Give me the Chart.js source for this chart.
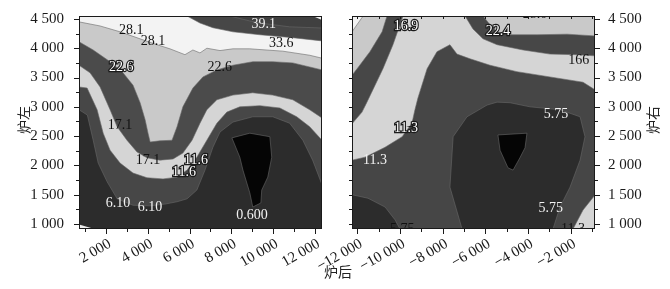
<!DOCTYPE html>
<html lang="zh">
<head>
<meta charset="UTF-8">
<title>炉后 等值线图</title>
<script src="https://cdn.jsdelivr.net/npm/chart.js@4"></script>
<style>
    body { margin: 0; background: #fff; }
    .wrap { position: relative; width: 670px; height: 289px; }
    .wrap canvas { position: absolute; left: 0; top: 0; }
    .axis-title {
        position: absolute;
        font-family: "Noto Sans CJK SC", sans-serif;
        font-size: 14px;
        line-height: 14px;
        color: #222;
        white-space: nowrap;
    }
    .vert { transform: rotate(-90deg); }
</style>
</head>
<body>
<div class="wrap">
    <canvas id="leftChart" width="670" height="289"></canvas>
    <canvas id="rightChart" width="670" height="289"></canvas>
    <div class="axis-title" style="left:324px; top:264px;">炉后</div>
    <div class="axis-title vert" style="left:9px; top:113px;">炉左</div>
    <div class="axis-title vert" style="left:638px; top:113px;">炉右</div>
</div>

<script>
    // axis limits
    const Y_MIN = 915, Y_MAX = 4550;
    const LX_MIN = 700, LX_MAX = 12350;
    const RX_MIN = -12250, RX_MAX = -860;

    // tick values
    const yTicks = [1000, 1500, 2000, 2500, 3000, 3500, 4000, 4500];
    const yMinor = [1250, 1750, 2250, 2750, 3250, 3750, 4250];
    const leftXTicks = [2000, 4000, 6000, 8000, 10000, 12000];
    const leftXMinor = [1000, 3000, 5000, 7000, 9000, 11000];
    const rightXTicks = [-12000, -10000, -8000, -6000, -4000, -2000];
    const rightXMinor = [-11000, -9000, -7000, -5000, -3000, -1000];

    // left panel contours [x, y]
    const leftBlob = [[8030,2470],[8890,2550],[9850,2490],[9940,2140],[9750,1800],[9460,1580],[9420,1360],[9030,1290],[8890,1530],[8560,1920],[8410,2140],[8030,2470]];
    const left610 = [[700,2950],[1100,2860],[1380,2430],[1620,2040],[2050,1720],[2530,1430],[3290,1320],[4100,1310],[4820,1340],[5400,1380],[5880,1430],[6350,1580],[6740,1920],[7120,2310],[7460,2570],[8080,2740],[9030,2830],[9990,2830],[10800,2720],[11430,2430],[11900,2090],[12350,1670]];
    const left116 = [[700,3340],[1090,3320],[1570,2950],[1860,2550],[2190,2260],[2670,2040],[3290,1870],[3960,1790],[4730,1770],[5400,1800],[5880,1920],[6350,2140],[6830,2430],[7310,2720],[7790,2910],[8410,3000],[9370,3020],[10330,2980],[11140,2830],[11760,2660],[12350,2430]];
    const left171 = [[700,3710],[1230,3580],[1710,3340],[2190,2950],[2530,2660],[3000,2430],[3480,2230],[3960,2130],[4580,2090],[5210,2110],[5680,2210],[6120,2430],[6500,2720],[6830,2950],[7310,3120],[8080,3200],[9030,3240],[9990,3200],[10950,3120],[11760,2950],[12350,2810]];
    const left226 = [[700,4110],[1380,3970],[2190,3770],[2810,3580],[3290,3370],[3630,3070],[3870,2780],[4010,2550],[4110,2400],[4580,2420],[5160,2430],[5400,2660],[5680,3000],[6160,3320],[6640,3510],[7310,3630],[8080,3710],[9030,3770],[9990,3770],[10950,3750],[11760,3680],[12350,3630]];
    const left281 = [[700,4450],[1710,4380],[2670,4280],[3630,4160],[4440,4060],[5060,3990],[5780,3890],[6160,3970],[6500,3920],[6830,4000],[7460,3960],[8080,3990],[8890,3990],[10470,3950],[11760,3880],[12350,3830]];
    const left336 = [[5880,4550],[6500,4430],[7120,4350],[8080,4280],[9370,4230],[10950,4180],[12350,4125]];
    const left391 = [[7930,4550],[8890,4465],[9700,4415],[10800,4365],[12350,4345]];
    const leftTopCorner = [[11900,4550],[12350,4480]];
    const leftLowCorner = [[700,990],[1450,915]];

    // right panel contours [x, y]
    const rightCore = [[-7090,915],[-7660,1630],[-7510,2490],[-6860,2830],[-5920,3030],[-5450,3080],[-4840,3070],[-3910,3000],[-2500,2950],[-1560,2830],[-1330,2490],[-1560,2090],[-2030,1630],[-2500,1290],[-2830,915]];
    const rightLowLeft = [[-12250,1500],[-11500,1440],[-10700,1290],[-10230,1070],[-10000,915]];
    const rightBlob = [[-5410,2520],[-4050,2550],[-4140,2300],[-4380,2130],[-4700,1920],[-4940,1960],[-5310,2260],[-5410,2520]];
    const rightLowRight = [[-860,1495],[-1420,1240],[-1890,915]];
    const right113 = [[-12250,2090],[-11640,2140],[-10700,2310],[-9900,2490],[-9440,2720],[-9300,2950],[-9160,3150],[-8730,3650],[-8270,3940],[-7660,4060],[-7330,3900],[-6720,3820],[-5780,3710],[-4520,3600],[-2970,3510],[-1420,3420],[-860,3290]];
    const right169a = [[-12250,2710],[-11780,2910],[-11550,3080],[-11260,3300],[-10800,3650],[-10330,4060],[-10090,4310],[-9860,4550]];
    const right169b = [[-6950,4550],[-6580,4330],[-6110,4160],[-5450,4060],[-4230,3970],[-2970,3900],[-1700,3890],[-860,3870]];
    const right224a = [[-12250,3540],[-12010,3650],[-11410,3940],[-10840,4280],[-10610,4550]];
    const right224b = [[-6110,4550],[-5780,4400],[-5450,4280],[-4840,4230],[-3580,4230],[-2170,4240],[-860,4210]];
    const right280 = [[-12250,4280],[-11730,4550]];

    // contour labels [text, x, y, style]
    const leftLabels = [
        ['28.1', 3200, 4310, 'dark'], ['28.1', 4250, 4110, 'dark'],
        ['39.1', 9560, 4400, 'light'], ['33.6', 10400, 4090, 'dark'],
        ['22.6', 2720, 3680, 'outline'], ['22.6', 7450, 3680, 'dark'],
        ['17.1', 2670, 2690, 'dark'], ['17.1', 4010, 2090, 'dark'],
        ['11.6', 6310, 2090, 'outline'], ['11.6', 5730, 1890, 'outline'],
        ['6.10', 2570, 1360, 'light'], ['6.10', 4100, 1290, 'light'],
        ['0.600', 8990, 1150, 'light']
    ];
    const rightLabels = [
        ['16.9', -9720, 4380, 'outline'], ['22.4', -5410, 4280, 'outline'],
        ['28.0', -3670, 4570, 'dark'], ['166', -1620, 3800, 'dark'],
        ['5.75', -2690, 2880, 'light'], ['11.3', -9720, 2640, 'outline'],
        ['11.3', -11170, 2090, 'light'], ['5.75', -2930, 1270, 'light'],
        ['5.75', -9900, 905, 'dark'], ['11.3', -1890, 905, 'dark']
    ];

    const SERIF = '"Liberation Serif", "DejaVu Serif", serif';

    function fmt(v) {
        const s = Math.abs(v).toString().replace(/\B(?=(\d{3})+(?!\d))/g, ' ');
        return (v < 0 ? '\u2212' : '') + s;
    }

    const toXY = pts => pts.map(p => ({ x: p[0], y: p[1] }));

    // frame, tick marks and contour labels
    function decor(cfg) {
        return {
            id: 'decor',
            afterDatasetsDraw(chart) {
                const { ctx, chartArea: a, scales } = chart;

                ctx.save();
                ctx.beginPath();
                ctx.rect(a.left, a.top, a.right - a.left, a.bottom - a.top);
                ctx.clip();
                ctx.font = '14px ' + SERIF;
                ctx.textAlign = 'center';
                ctx.textBaseline = 'middle';
                cfg.labels.forEach(([t, x, y, style]) => {
                    const px = scales.x.getPixelForValue(x);
                    const py = scales.y.getPixelForValue(y);
                    if (style === 'outline') {
                        ctx.lineWidth = 2.4;
                        ctx.strokeStyle = '#1a1a1a';
                        ctx.strokeText(t, px, py);
                        ctx.fillStyle = '#ffffff';
                    } else {
                        ctx.fillStyle = style === 'light' ? '#f2f2f2' : '#111111';
                    }
                    ctx.fillText(t, px, py);
                });
                ctx.restore();

                ctx.save();
                ctx.strokeStyle = '#1a1a1a';
                ctx.lineWidth = 1;
                ctx.strokeRect(Math.round(a.left) + 0.5, Math.round(a.top) + 0.5,
                    Math.round(a.right - a.left) - 1, Math.round(a.bottom - a.top) - 1);

                cfg.marks.forEach(m => {
                    const scale = scales[m.axis];
                    ctx.beginPath();
                    m.values.forEach(v => {
                        const p = Math.round(scale.getPixelForValue(v)) + 0.5;
                        const d = m.inward ? -m.len : m.len;
                        if (m.edge === 'bottom') { ctx.moveTo(p, a.bottom); ctx.lineTo(p, a.bottom + d); }
                        if (m.edge === 'top') { ctx.moveTo(p, a.top); ctx.lineTo(p, a.top - d); }
                        if (m.edge === 'left') { ctx.moveTo(a.left, p); ctx.lineTo(a.left - d, p); }
                        if (m.edge === 'right') { ctx.moveTo(a.right, p); ctx.lineTo(a.right + d, p); }
                    });
                    ctx.stroke();
                });
                ctx.restore();
            }
        };
    }

    function makeChart(id, cfg) {
        const fills = cfg.regions.map((r, i) => ({
            data: toXY(r[1]),
            showLine: true,
            fill: 'shape',
            backgroundColor: r[0],
            borderWidth: 0,
            pointRadius: 0,
            tension: 0,
            order: 100 - i
        }));
        const lines = cfg.contours.map(c => ({
            data: toXY(c),
            showLine: true,
            fill: false,
            borderColor: 'rgba(105, 105, 105, 0.85)',
            borderWidth: 0.7,
            pointRadius: 0,
            tension: 0,
            order: 0
        }));

        return new Chart(document.getElementById(id), {
            type: 'scatter',
            data: { datasets: fills.concat(lines) },
            options: {
                responsive: false,
                animation: false,
                devicePixelRatio: 1,
                events: [],
                layout: { padding: cfg.padding },
                plugins: { legend: { display: false }, tooltip: { enabled: false } },
                scales: {
                    x: {
                        type: 'linear',
                        min: cfg.xMin,
                        max: cfg.xMax,
                        grid: { display: false },
                        border: { display: false },
                        afterBuildTicks: s => { s.ticks = cfg.xTicks.map(v => ({ value: v })); },
                        afterFit: s => { s.height = 60; s.paddingLeft = 0; s.paddingRight = 0; },
                        ticks: {
                            autoSkip: false,
                            minRotation: 30,
                            maxRotation: 30,
                            padding: -2,
                            labelOffset: 4,
                            color: '#1a1a1a',
                            font: { family: SERIF, size: 15 },
                            callback: fmt
                        }
                    },
                    y: {
                        type: 'linear',
                        position: cfg.yPos,
                        min: Y_MIN,
                        max: Y_MAX,
                        grid: { display: false },
                        border: { display: false },
                        afterBuildTicks: s => { s.ticks = yTicks.map(v => ({ value: v })); },
                        afterFit: s => { s.width = cfg.yWidth; s.paddingTop = 0; s.paddingBottom = 0; },
                        ticks: {
                            padding: cfg.yPad,
                            color: '#1a1a1a',
                            font: { family: SERIF, size: 15 },
                            callback: fmt
                        }
                    }
                }
            },
            plugins: [decor(cfg)]
        });
    }

    // left panel
    makeChart('leftChart', {
        xMin: LX_MIN, xMax: LX_MAX, xTicks: leftXTicks,
        yPos: 'left', yWidth: 79, yPad: 7,
        padding: { left: 0, right: 348, top: 16, bottom: 0 },
        regions: [
            ['#2c2c2c', [[LX_MIN, Y_MIN], [LX_MAX, Y_MIN], [LX_MAX, Y_MAX], [LX_MIN, Y_MAX]]],
            ['#474747', left610.concat([[LX_MAX, Y_MAX], [LX_MIN, Y_MAX]])],
            ['#d5d5d5', left116.concat([[LX_MAX, Y_MAX], [LX_MIN, Y_MAX]])],
            ['#4b4b4b', left171.concat([[LX_MAX, Y_MAX], [LX_MIN, Y_MAX]])],
            ['#c9c9c9', left226.concat([[LX_MAX, Y_MAX], [LX_MIN, Y_MAX]])],
            ['#f3f3f3', left281.concat([[LX_MAX, Y_MAX], [LX_MIN, Y_MAX]])],
            ['#474747', left336.concat([[LX_MAX, Y_MAX]])],
            ['#404040', left391.concat([[LX_MAX, Y_MAX]])],
            ['#f0f0f0', leftTopCorner.concat([[LX_MAX, Y_MAX]])],
            ['#eeeeee', leftLowCorner.concat([[LX_MIN, Y_MIN]])],
            ['#050505', leftBlob]
        ],
        contours: [left610, left116, left171, left226, left281, left336, left391, leftBlob],
        labels: leftLabels,
        marks: [
            { axis: 'x', edge: 'bottom', values: leftXTicks, len: 5 },
            { axis: 'x', edge: 'bottom', values: leftXMinor, len: 3 },
            { axis: 'y', edge: 'left', values: yTicks, len: 5 },
            { axis: 'y', edge: 'left', values: yMinor, len: 3 }
        ]
    });

    // right panel
    makeChart('rightChart', {
        xMin: RX_MIN, xMax: RX_MAX, xTicks: rightXTicks,
        yPos: 'right', yWidth: 75, yPad: 5,
        padding: { left: 352, right: 0, top: 16, bottom: 0 },
        regions: [
            ['#464646', [[RX_MIN, Y_MIN], [RX_MAX, Y_MIN], [RX_MAX, Y_MAX], [RX_MIN, Y_MAX]]],
            ['#2c2c2c', rightCore],
            ['#2c2c2c', rightLowLeft.concat([[RX_MIN, Y_MIN]])],
            ['#d5d5d5', rightLowRight.concat([[RX_MAX, Y_MIN]])],
            ['#050505', rightBlob],
            ['#d5d5d5', right113.concat([[RX_MAX, Y_MAX], [RX_MIN, Y_MAX]])],
            ['#474747', right169a.concat([[RX_MIN, Y_MAX]])],
            ['#474747', right169b.concat([[RX_MAX, Y_MAX]])],
            ['#c9c9c9', right224a.concat([[RX_MIN, Y_MAX]])],
            ['#c9c9c9', right224b.concat([[RX_MAX, Y_MAX]])],
            ['#f3f3f3', right280.concat([[RX_MIN, Y_MAX]])]
        ],
        contours: [rightCore, rightLowLeft, rightBlob, rightLowRight, right113, right169a, right169b, right224a, right224b, right280],
        labels: rightLabels,
        marks: [
            { axis: 'x', edge: 'bottom', values: rightXTicks, len: 5 },
            { axis: 'x', edge: 'bottom', values: rightXMinor, len: 3 },
            { axis: 'x', edge: 'top', values: rightXTicks.concat(rightXMinor), len: 3, inward: true },
            { axis: 'y', edge: 'right', values: yTicks, len: 5 },
            { axis: 'y', edge: 'right', values: yMinor, len: 3 },
            { axis: 'y', edge: 'left', values: yTicks.concat(yMinor), len: 3 }
        ]
    });
</script>
</body>
</html>
